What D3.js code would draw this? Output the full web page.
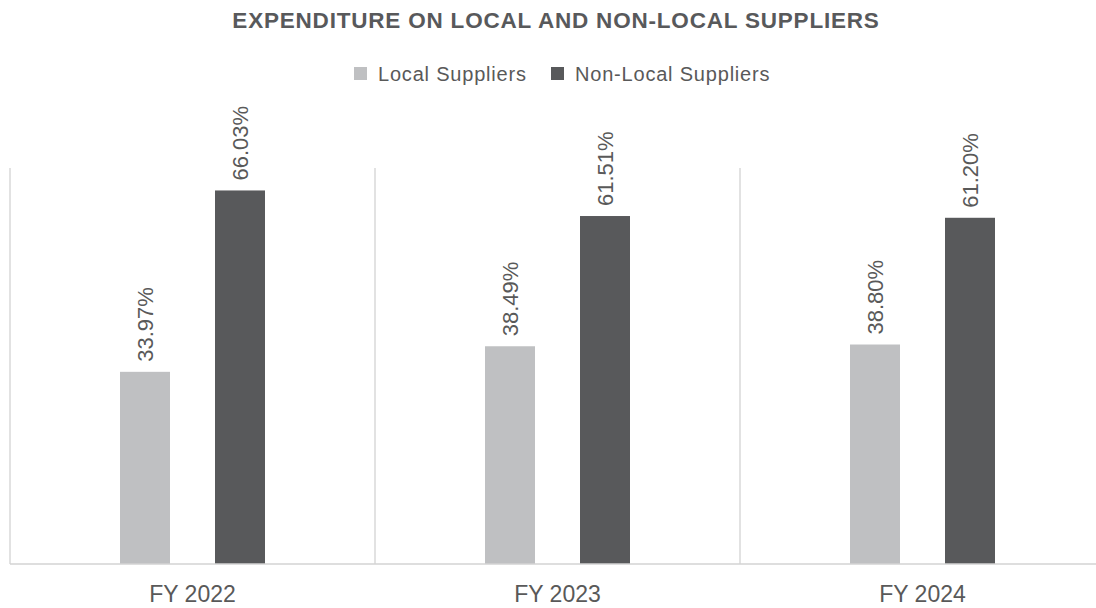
<!DOCTYPE html>
<html>
<head>
<meta charset="utf-8">
<script src="https://cdn.jsdelivr.net/npm/d3@7/dist/d3.min.js"></script>
<style>
  html, body { margin: 0; padding: 0; background: #fff; }
  svg { display: block; font-family: "Liberation Sans", Arial, Helvetica, sans-serif; }
</style>
</head>
<body>
<svg id="chart" width="1096" height="608"></svg>
<script>
// Share of procurement spend by supplier origin
const categories = ["FY 2022", "FY 2023", "FY 2024"];
const seriesNames = ["Local Suppliers", "Non-Local Suppliers"];
const localValues = [33.97, 38.49, 38.80];
const nonLocalValues = [66.03, 61.51, 61.20];
const yDomain = [0, 70];

const colors = { "Local Suppliers": "#bfc0c2", "Non-Local Suppliers": "#58595b" };
const textColor = "#595959";
const gridColor = "#d3d3d3";

const svg = d3.select("#chart");
const plot = { left: 10, right: 1105, top: 168, bottom: 564 };

const rows = categories.map((c, i) => ({
  category: c,
  values: [
    { series: seriesNames[0], value: localValues[i] },
    { series: seriesNames[1], value: nonLocalValues[i] }
  ]
}));

const x0 = d3.scaleBand().domain(categories).range([plot.left, plot.right]).padding(0);
const x1 = d3.scaleBand().domain(seriesNames).range([0, x0.bandwidth()])
  .paddingInner(0.4737).paddingOuter(1.158);
const y = d3.scaleLinear().domain(yDomain).range([plot.bottom, plot.top]);

// Title
svg.append("text")
  .attr("x", 556).attr("y", 28)
  .attr("text-anchor", "middle")
  .attr("font-size", 22.5).attr("font-weight", "bold")
  .attr("letter-spacing", 0.8)
  .attr("fill", "#58595b")
  .text("EXPENDITURE ON LOCAL AND NON-LOCAL SUPPLIERS");

// Legend
const legend = svg.append("g").attr("class", "legend");
const legendItems = [{ name: seriesNames[0], x: 354 }, { name: seriesNames[1], x: 551 }];
legendItems.forEach(item => {
  legend.append("rect")
    .attr("x", item.x).attr("y", 67).attr("width", 13).attr("height", 13)
    .attr("fill", colors[item.name]);
  legend.append("text")
    .attr("x", item.x + 24).attr("y", 81)
    .attr("font-size", 20).attr("letter-spacing", 0.8)
    .attr("fill", textColor)
    .text(item.name);
});

// Category separators (vertical gridlines at band edges)
const edges = categories.map(c => x0(c)).concat([x0(categories[categories.length - 1]) + x0.bandwidth()]);
svg.append("g").selectAll("line")
  .data(edges)
  .join("line")
  .attr("x1", d => d).attr("x2", d => d)
  .attr("y1", plot.top).attr("y2", plot.bottom)
  .attr("stroke", gridColor).attr("stroke-width", 1.3);

// Bars
const groups = svg.append("g").selectAll("g")
  .data(rows)
  .join("g")
  .attr("transform", d => `translate(${x0(d.category)},0)`);

groups.selectAll("rect")
  .data(d => d.values)
  .join("rect")
  .attr("x", d => x1(d.series))
  .attr("width", x1.bandwidth())
  .attr("y", d => y(d.value))
  .attr("height", d => y(0) - y(d.value))
  .attr("fill", d => colors[d.series]);

// Rotated value labels
groups.selectAll("text.value")
  .data(d => d.values)
  .join("text")
  .attr("class", "value")
  .attr("transform", d => `translate(${x1(d.series) + x1.bandwidth() / 2},${y(d.value) - 10}) rotate(-90)`)
  .attr("dy", "0.35em")
  .attr("font-size", 22)
  .attr("fill", textColor)
  .text(d => d.value.toFixed(2) + "%");

// Category axis
const xAxis = svg.append("g")
  .attr("transform", `translate(0,${plot.bottom})`)
  .call(d3.axisBottom(x0).tickSize(0).tickPadding(22));
xAxis.select(".domain")
  .attr("d", `M${plot.left},0H${plot.right}`)
  .attr("stroke", gridColor).attr("stroke-width", 1.3);
xAxis.selectAll(".tick text")
  .attr("font-size", 23)
  .attr("font-family", "Liberation Sans, Arial, sans-serif")
  .attr("fill", textColor)
  .attr("dy", "0.71em");
</script>
</body>
</html>
